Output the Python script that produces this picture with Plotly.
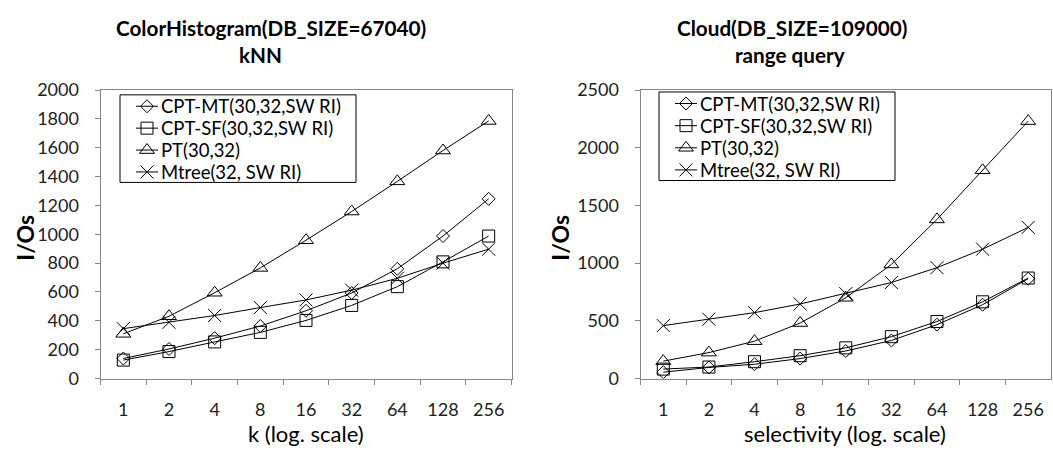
import plotly.graph_objects as go

W, H = 1053, 459
categories = ["1", "2", "4", "8", "16", "32", "64", "128", "256"]
series_names = ["CPT-MT(30,32,SW RI)", "CPT-SF(30,32,SW RI)", "PT(30,32)", "Mtree(32, SW RI)"]

# Left chart: ColorHistogram kNN
color_cpt_mt = [139, 205, 280, 364, 470, 593, 761, 988, 1246]
color_cpt_sf = [128, 187, 254, 320, 403, 507, 637, 809, 988]
color_pt = [310, 432, 595, 767, 959, 1158, 1367, 1581, 1786]
color_mtree = [346, 390, 437, 492, 545, 613, 695, 800, 897]

# Right chart: Cloud range query
cloud_cpt_mt = [55, 96, 124, 173, 239, 330, 467, 640, 865]
cloud_cpt_sf = [82, 100, 146, 198, 266, 363, 494, 665, 871]
cloud_pt = [151, 225, 324, 481, 700, 989, 1379, 1805, 2231]
cloud_mtree = [459, 514, 571, 646, 736, 832, 961, 1121, 1310]

symbols = ["diamond-open", "square-open", "triangle-up-open", "x-thin-open"]
sizes = [10, 12, 13, 13]

FONT = "Lato"
def px(x):
    return x / W
def py(y):
    return (H - y) / H

fig = go.Figure()
left = [color_cpt_mt, color_cpt_sf, color_pt, color_mtree]
right = [cloud_cpt_mt, cloud_cpt_sf, cloud_pt, cloud_mtree]
for ax, ay, data in [("x", "y", left), ("x2", "y2", right)]:
    for i, (name, vals) in enumerate(zip(series_names, data)):
        fig.add_trace(go.Scatter(x=categories, y=vals, name=name, mode="lines+markers",
                                 line=dict(color="black", width=1),
                                 marker=dict(symbol=symbols[i], size=sizes[i], color="black",
                                             line=dict(color="black", width=1)),
                                 xaxis=ax, yaxis=ay, showlegend=False))

# Manual legends drawn on an invisible pixel-unit overlay axis
legend_boxes = [(120, 87, 356, 179), (659, 84, 895, 177)]
shapes = []
ann = []
for (x0, y0, x1, y1) in legend_boxes:
    shapes.append(dict(type="rect", xref="paper", yref="paper",
                       x0=px(x0), x1=px(x1), y0=py(y0), y1=py(y1),
                       line=dict(color="black", width=1), fillcolor="white", layer="below"))
    row_h = (y1 - y0) / 4
    for i, name in enumerate(series_names):
        yc = y0 + row_h * (i + 0.5) + 0.5
        sx0, sx1 = x0 + 16, x0 + 38
        fig.add_trace(go.Scatter(x=[sx0, sx1], y=[yc, yc], mode="lines",
                                 line=dict(color="black", width=1),
                                 xaxis="x3", yaxis="y3", showlegend=False, hoverinfo="skip"))
        fig.add_trace(go.Scatter(x=[(sx0 + sx1) / 2], y=[yc], mode="markers",
                                 marker=dict(symbol=symbols[i], size=sizes[i], color="black",
                                             line=dict(color="black", width=1)),
                                 xaxis="x3", yaxis="y3", showlegend=False, hoverinfo="skip"))
        ann.append(dict(text=name, x=px(sx1 + 1), y=py(yc), xref="paper", yref="paper",
                        showarrow=False, xanchor="left", yanchor="middle",
                        font=dict(family=FONT, size=18.5, color="black")))

axis_common = dict(showline=True, linecolor="#868686", linewidth=1, mirror=True,
                   ticks="outside", ticklen=5, tickcolor="#868686", showgrid=False,
                   zeroline=False, tickfont=dict(family=FONT, size=18, color="#222222"))

ybot, ytop = py(385), py(82)
fig.update_layout(
    width=W, height=H, margin=dict(l=0, r=0, t=0, b=0),
    paper_bgcolor="white", plot_bgcolor="rgba(0,0,0,0)",
    font=dict(family=FONT, color="black"),
    xaxis=dict(domain=[px(100.5), px(511.5)], type="category", range=[-0.5, 8.5],
               tickson="boundaries", anchor="y", ticklabelstandoff=15, **axis_common),
    yaxis=dict(domain=[ybot, ytop], range=[0, 2000], dtick=200, anchor="x",
               ticklabelstandoff=12, **axis_common),
    xaxis2=dict(domain=[px(640.5), px(1051)], type="category", range=[-0.5, 8.5],
                tickson="boundaries", anchor="y2", ticklabelstandoff=15, **axis_common),
    yaxis2=dict(domain=[ybot, ytop], range=[0, 2500], dtick=500, anchor="x2",
                ticklabelstandoff=12, **axis_common),
    xaxis3=dict(domain=[0, 1], range=[0, W], visible=False, anchor="y3", fixedrange=True),
    yaxis3=dict(domain=[0, 1], range=[H, 0], visible=False, anchor="x3", fixedrange=True),
    showlegend=False,
    shapes=shapes,
)

def add(text, x, y, size, bold=False, angle=0):
    ann.append(dict(text=f"<b>{text}</b>" if bold else text, x=px(x), y=py(y),
                    xref="paper", yref="paper", showarrow=False, textangle=angle,
                    xanchor="center", yanchor="middle",
                    font=dict(family=FONT, size=size, color="black")))

add("ColorHistogram(DB_SIZE=67040)", 271, 17, 20.7, True)
add("kNN", 260, 45, 20.7, True)
add("Cloud(DB_SIZE=109000)", 792, 17, 20.7, True)
add("range query", 790, 45, 20.7, True)
add("I/Os", 25, 237, 23, True, -90)
add("I/Os", 560, 237, 23, True, -90)
add("k (log. scale)", 306, 443, 22)
add("selectivity (log. scale)", 845, 443, 22)
fig.update_layout(annotations=ann)

fig.write_html("out.html", config={"displayModeBar": False})
